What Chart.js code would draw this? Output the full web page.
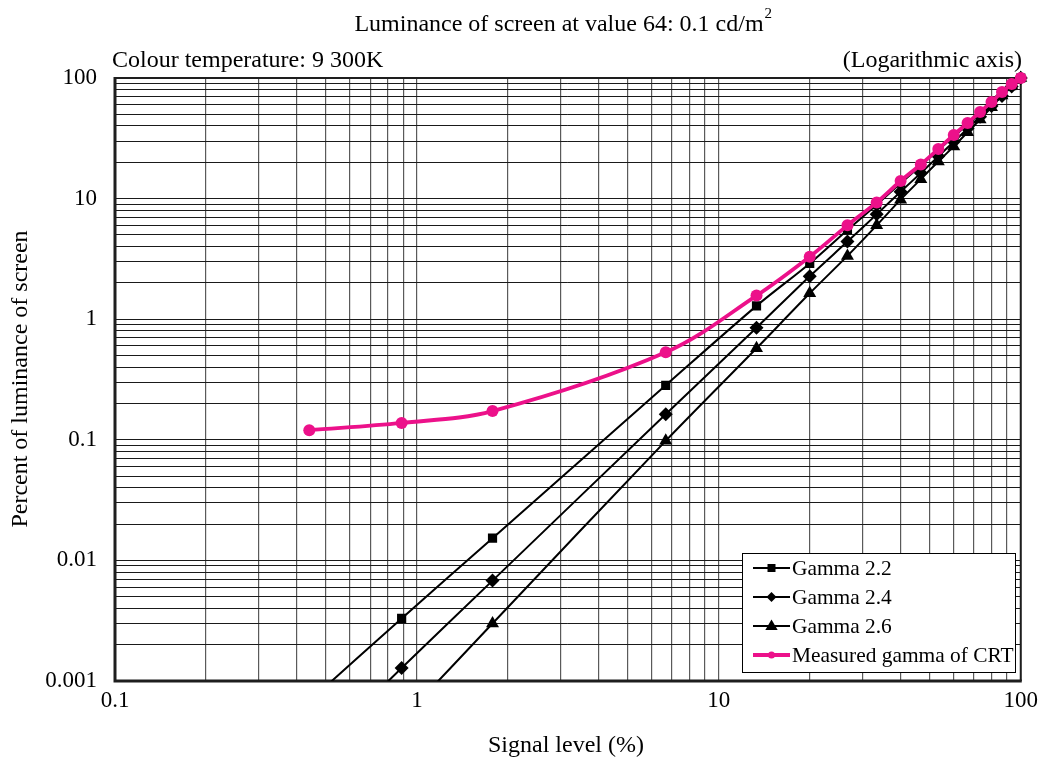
<!DOCTYPE html>
<html>
<head>
<meta charset="utf-8">
<script src="https://cdn.jsdelivr.net/npm/chart.js@4/dist/chart.umd.min.js"></script>
<style>
html,body{margin:0;padding:0;background:#fff;}
#wrap{width:1044px;height:762px;position:relative;}
</style>
</head>
<body>
<div id="wrap"><canvas id="c" width="1044" height="762"></canvas></div>
<script>
// ---- data ----
const signalLevels = [0.44, 0.89, 1.78, 6.67, 13.33, 20, 26.67, 33.33, 40, 46.67, 53.33, 60, 66.67, 73.33, 80, 86.67, 93.33, 100];
const gamma22  = [0.00068, 0.0033, 0.0153, 0.283, 1.29, 2.9, 5.5, 8.9, 13.4, 18.8, 25.2, 32.7, 41.2, 50.7, 61.5, 73.3, 86.2, 100];
const gamma24  = [0.00023, 0.00128, 0.0068, 0.163, 0.85, 2.27, 4.4, 7.4, 11.4, 16.3, 22.4, 29.6, 38.1, 47.8, 58.7, 71.0, 85.0, 100];
const gamma26  = [0.00008, 0.00048, 0.0030, 0.098, 0.574, 1.64, 3.35, 6.0, 9.8, 14.5, 20.3, 27.1, 35.5, 45.3, 57.3, 71.5, 86.5, 100];
const measured = [0.120, 0.138, 0.173, 0.531, 1.57, 3.3, 6.0, 9.3, 14.0, 19.2, 25.8, 33.7, 42.3, 52.3, 63.2, 76.5, 89.0, 100];
const seriesLabels = ['Gamma 2.2', 'Gamma 2.4', 'Gamma 2.6', 'Measured gamma of CRT'];

// ---- axis ticks ----
const xMajorValues = [0.1, 1, 10, 100];
const xMajorLabels = ['0.1', '1', '10', '100'];
const yMajorValues = [0.001, 0.01, 0.1, 1, 10, 100];
const yMajorLabels = ['0.001', '0.01', '0.1', '1', '10', '100'];
const minorMultipliers = [1, 2, 3, 4, 5, 6, 7, 8, 9];

function logGrid(majors) {
  const out = [];
  for (let i = 0; i < majors.length - 1; i++) {
    for (const m of minorMultipliers) out.push(m === 1 ? majors[i] : majors[i] * m);
  }
  out.push(majors[majors.length - 1]);
  return out;
}
const xTickValues = logGrid(xMajorValues);
const yTickValues = logGrid(yMajorValues);

const FONT = 'Liberation Serif';
const PINK = '#EC118A';

function pts(ys) { return signalLevels.map((x, i) => ({ x: x, y: ys[i] })); }

const clipOpt = { left: 0, top: 10, right: 10, bottom: 0 };

const datasets = [
  { label: seriesLabels[0], data: pts(gamma22), borderColor: '#000', backgroundColor: '#000', borderWidth: 2,
    pointStyle: 'rect', pointRadius: 6.5, pointBorderWidth: 0, pointBackgroundColor: '#000', tension: 0.3, order: 3, clip: clipOpt },
  { label: seriesLabels[1], data: pts(gamma24), borderColor: '#000', backgroundColor: '#000', borderWidth: 2,
    pointStyle: 'rectRot', pointRadius: 7, pointBorderWidth: 0, pointBackgroundColor: '#000', tension: 0.3, order: 2, clip: clipOpt },
  { label: seriesLabels[2], data: pts(gamma26), borderColor: '#000', backgroundColor: '#000', borderWidth: 2,
    pointStyle: 'triangle', pointRadius: 7.5, pointBorderWidth: 0, pointBackgroundColor: '#000', tension: 0.3, order: 1, clip: clipOpt },
  { label: seriesLabels[3], data: pts(measured), borderColor: PINK, backgroundColor: PINK, borderWidth: 3.8,
    pointStyle: 'circle', pointRadius: 6, pointBorderWidth: 0, pointBackgroundColor: PINK, tension: 0.35, order: 0, clip: clipOpt }
];

function drawMarker(ctx, style, x, y, r, color) {
  ctx.save();
  ctx.fillStyle = color;
  ctx.beginPath();
  if (style === 'rect') {
    ctx.rect(x - r, y - r, r * 2, r * 2);
  } else if (style === 'rectRot') {
    ctx.moveTo(x, y - r); ctx.lineTo(x + r, y); ctx.lineTo(x, y + r); ctx.lineTo(x - r, y); ctx.closePath();
  } else if (style === 'triangle') {
    ctx.moveTo(x, y - r); ctx.lineTo(x + r * 0.95, y + r * 0.6); ctx.lineTo(x - r * 0.95, y + r * 0.6); ctx.closePath();
  } else {
    ctx.arc(x, y, r, 0, Math.PI * 2);
  }
  ctx.fill();
  ctx.restore();
}

const framePlugin = {
  id: 'frame',
  beforeDatasetsDraw(chart) {
    const a = chart.chartArea, ctx = chart.ctx;
    ctx.save();
    ctx.strokeStyle = '#1e1e1e';
    ctx.lineWidth = 2;
    ctx.beginPath();
    ctx.moveTo(a.left, a.top); ctx.lineTo(a.right, a.top); ctx.lineTo(a.right, a.bottom);
    ctx.stroke();
    ctx.lineWidth = 3;
    ctx.beginPath();
    ctx.moveTo(a.left, a.top - 1); ctx.lineTo(a.left, a.bottom); ctx.lineTo(a.right + 1, a.bottom);
    ctx.stroke();
    ctx.restore();
  }
};

const textPlugin = {
  id: 'texts',
  afterDraw(chart) {
    const ctx = chart.ctx;
    ctx.save();
    ctx.fillStyle = '#000';
    ctx.textBaseline = 'alphabetic';
    // top title with superscript
    ctx.font = '24px "' + FONT + '"';
    ctx.textAlign = 'left';
    const t = 'Luminance of screen at value 64: 0.1 cd/m';
    const w = ctx.measureText(t).width;
    const tx = 563 - (w + 8) / 2;
    ctx.fillText(t, tx, 31);
    ctx.font = '15px "' + FONT + '"';
    ctx.fillText('2', tx + w + 1, 18);
    // sub labels
    ctx.font = '24px "' + FONT + '"';
    ctx.textAlign = 'left';
    ctx.fillText('Colour temperature: 9 300K', 112, 67);
    ctx.textAlign = 'right';
    ctx.fillText('(Logarithmic axis)', 1022, 67);
    // x axis title
    ctx.textAlign = 'center';
    ctx.fillText('Signal level (%)', 566, 752);
    // y axis title
    ctx.save();
    ctx.translate(27, 379);
    ctx.rotate(-Math.PI / 2);
    ctx.textAlign = 'center';
    ctx.fillText('Percent of luminance of screen', 0, 0);
    ctx.restore();

    // legend
    const bx = 742, by = 553, bw = 273, bh = 119;
    ctx.fillStyle = '#fff';
    ctx.fillRect(bx, by, bw, bh);
    ctx.strokeStyle = '#000';
    ctx.lineWidth = 1;
    ctx.strokeRect(bx + 0.5, by + 0.5, bw, bh);
    const rows = [568, 597, 626, 655];
    const legendRadii = [4, 5, 6.5, 3.5];
    chart.data.datasets.forEach((ds, i) => {
      const y = rows[i];
      ctx.strokeStyle = ds.borderColor;
      ctx.lineWidth = ds.borderWidth;
      ctx.beginPath();
      ctx.moveTo(753, y); ctx.lineTo(790, y);
      ctx.stroke();
      drawMarker(ctx, ds.pointStyle, 771.5, y, legendRadii[i], ds.pointBackgroundColor);
      ctx.fillStyle = '#000';
      ctx.font = '21.4px "' + FONT + '"';
      ctx.textAlign = 'left';
      ctx.textBaseline = 'middle';
      ctx.fillText(ds.label, 792, y + 1);
    });
    ctx.restore();
  }
};

function labelFrom(values, labels) {
  return function (v) {
    const i = values.indexOf(v);
    return i >= 0 ? labels[i] : '';
  };
}

new Chart(document.getElementById('c'), {
  type: 'line',
  data: { datasets: datasets },
  options: {
    responsive: false,
    animation: false,
    devicePixelRatio: 1,
    layout: { padding: { left: 0, right: 22, top: 78, bottom: 0 } },
    plugins: { legend: { display: false }, tooltip: { enabled: false }, title: { display: false } },
    scales: {
      x: {
        type: 'logarithmic', position: 'bottom', min: 0.1, max: 100,
        grid: { color: '#5a5a5a', lineWidth: 1.2, drawTicks: false },
        border: { display: false },
        ticks: { autoSkip: false, maxRotation: 0, padding: 6, color: '#000',
                 font: { family: FONT, size: 23 }, callback: labelFrom(xMajorValues, xMajorLabels) },
        afterBuildTicks: s => { s.ticks = xTickValues.map(v => ({ value: v })); },
        afterFit: s => { s.height = 81; }
      },
      y: {
        type: 'logarithmic', position: 'left', min: 0.001, max: 100,
        grid: { color: '#1a1a1a', lineWidth: 1, drawTicks: false },
        border: { display: false },
        ticks: { autoSkip: false, padding: 18, color: '#000',
                 font: { family: FONT, size: 23 }, callback: labelFrom(yMajorValues, yMajorLabels) },
        afterBuildTicks: s => { s.ticks = yTickValues.map(v => ({ value: v })); },
        afterFit: s => { s.width = 115; }
      }
    }
  },
  plugins: [framePlugin, textPlugin]
});
</script>
</body>
</html>
